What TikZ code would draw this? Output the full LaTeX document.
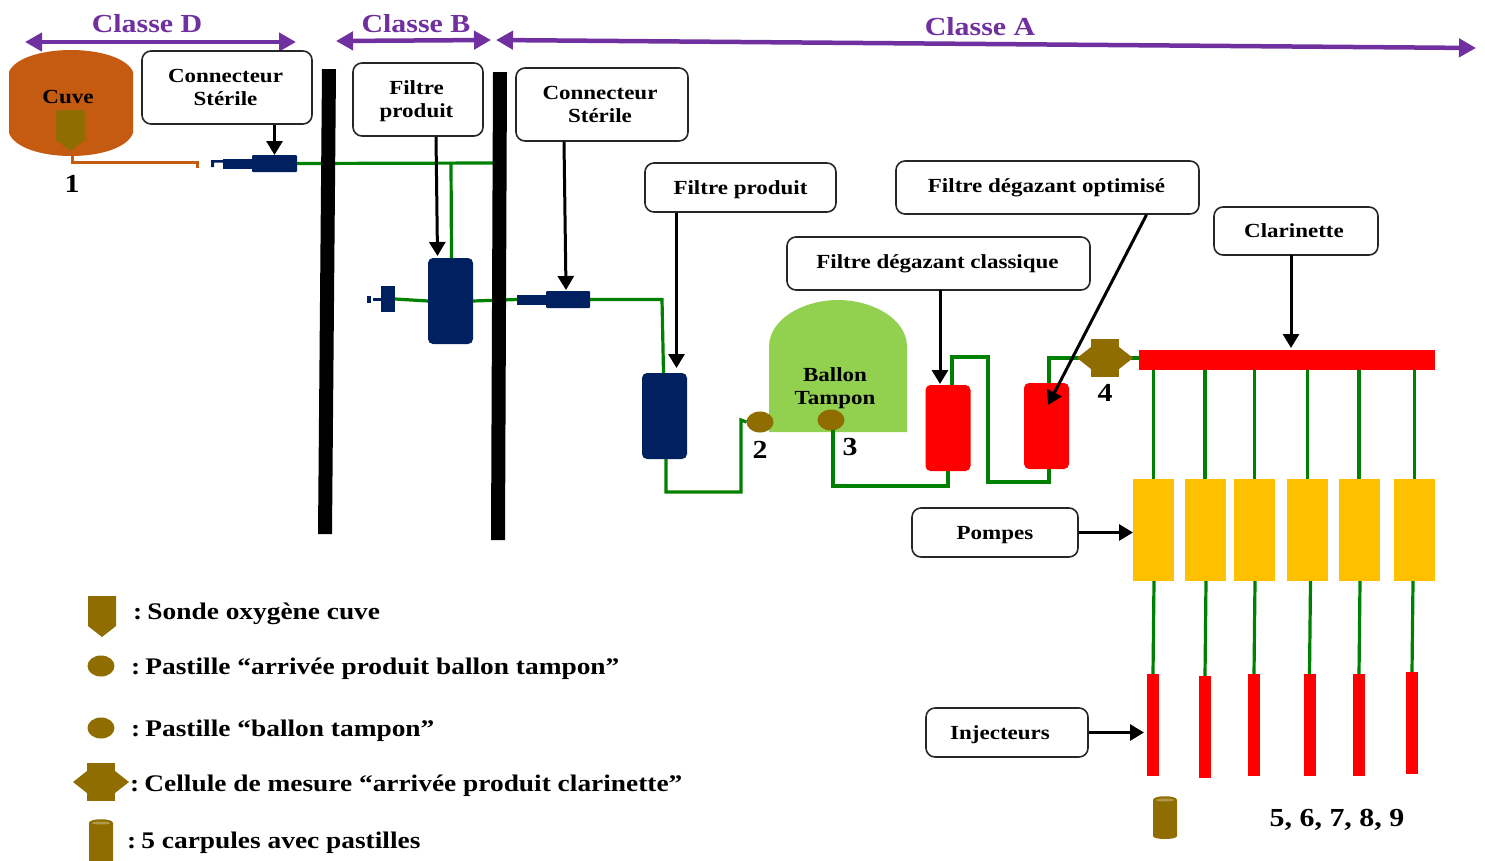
\documentclass[tikz,border=0pt]{standalone}
\usepackage{fontspec}
\setmainfont[FakeStretch=1.15]{Liberation Serif}
\usetikzlibrary{arrows.meta,calc,shapes.geometric}
\definecolor{cPurple}{HTML}{7030A0}
\definecolor{cGreen}{HTML}{008000}
\definecolor{cOrange}{HTML}{C55A11}
\definecolor{cNavy}{HTML}{002060}
\definecolor{cBrown}{HTML}{8F6D00}
\definecolor{cLeaf}{HTML}{92D050}
\definecolor{cAmber}{HTML}{FFC000}
\newcommand{\dn}[1]{\rule{0pt}{#1pt}}
\tikzset{
  x=1pt,y=-1pt,
  label box/.style={draw=black!85,line width=1.6pt,rounded corners=9pt,fill=white,align=center,inner sep=0pt,font=\bfseries\fontsize{20}{23}\selectfont},
  solid part/.style={inner sep=0pt,outer sep=0pt,draw=none},
  navy filter/.style={solid part,fill=cNavy,rounded corners=5pt,minimum width=45pt,minimum height=86pt},
  red filter/.style={solid part,fill=red,rounded corners=5pt,minimum width=45pt,minimum height=86pt},
  navy part/.style={solid part,fill=cNavy},
  pump/.style={solid part,fill=cAmber,minimum width=41pt,minimum height=102pt},
  injector/.style={solid part,fill=red,minimum width=12pt,minimum height=102pt},
  pastille/.style={solid part,fill=cBrown,ellipse,minimum width=27pt,minimum height=21pt},
  pipe/.style={draw=cGreen,line width=3.2pt,line join=miter},
  callout/.style={draw=black,line width=3pt,-{Triangle[length=14pt,width=16pt]}},
  classe/.style={draw=cPurple,line width=4.5pt,{Triangle[length=17pt,width=18pt]}-{Triangle[length=17pt,width=18pt]}},
  classe text/.style={text=cPurple,inner sep=0pt,font=\bfseries\fontsize{26}{28}\selectfont},
  num/.style={inner sep=0pt,font=\bfseries\fontsize{26}{28}\selectfont},
  inner text/.style={inner sep=0pt,align=center,font=\bfseries\fontsize{20}{23}\selectfont},
  legend text/.style={inner sep=0pt,anchor=west,font=\bfseries\fontsize{23.8}{26}\selectfont},
}
\newcommand{\probeshape}[3]{%
  \fill[cBrown] (#1,#2) -- ++(#3,0) -- ++(0,30) -- ++({-#3/2},11) -- ++({-#3/2},-11) -- cycle;}
\newcommand{\cellshape}[2]{%
  \fill[cBrown] (#1-14,#2-19) rectangle (#1+14,#2+19);
  \fill[cBrown] (#1-28,#2) -- (#1-14,#2-11) -- (#1+14,#2-11) -- (#1+28,#2) -- (#1+14,#2+11) -- (#1-14,#2+11) -- cycle;}
\newcommand{\carpule}[4]{%
  \fill[cBrown] (#1,#2+4) .. controls (#1,#2-1) and (#3,#2-1) .. (#3,#2+4) -- (#3,#4-3) .. controls (#3,#4+1) and (#1,#4+1) .. (#1,#4-3) -- cycle;
  \fill[cBrown!70!white] (#1+3,#2+4) .. controls (#1+3,#2+2) and (#3-3,#2+2) .. (#3-3,#2+4) .. controls (#3-3,#2+6) and (#1+3,#2+6) .. (#1+3,#2+4) -- cycle;}
\begin{document}
\begin{tikzpicture}
\useasboundingbox (0,0) rectangle (1485,860);
\fill[white] (0,0) rectangle (1485,860);

% class arrows
\coordinate (dL) at (25,42); \coordinate (dR) at (296,42);
\coordinate (bL) at (336,41); \coordinate (bR) at (491,40);
\coordinate (aL) at (496,40); \coordinate (aR) at (1476,48);
\draw[classe] (dL) -- (dR);
\draw[classe] (bL) -- (bR);
\draw[classe] (aL) -- (aR);
\node[classe text] (classeD) at (147,24) {Classe D};
\node[classe text] (classeB) at (416,24) {Classe B};
\node[classe text] (classeA) at (980,27) {Classe A};

% solid parts
\node[navy part,minimum width=45pt,minimum height=17pt,rounded corners=1pt] (conn1) at (274.5,163.5) {};
\node[navy part,minimum width=30pt,minimum height=10pt] (conn1b) at (238,163.5) {};
\fill[cNavy] (211,167) -- (211,160) -- (223,160) -- (223,162.5) -- (214,162.5) -- (214,167) -- cycle;
\node[navy filter] (f1) at (450.5,301) {};
\node[navy part,minimum width=14pt,minimum height=26pt] (cap) at (388,299) {};
\node[navy part,minimum width=8pt,minimum height=3pt] (capb) at (377,299) {};
\node[navy part,minimum width=4pt,minimum height=7pt] (capc) at (369,299) {};
\node[navy part,minimum width=44pt,minimum height=17pt,rounded corners=1pt] (conn2) at (568,299.5) {};
\node[navy part,minimum width=30pt,minimum height=10pt] (conn2b) at (532,299.5) {};
\node[navy filter] (f2) at (664.5,416) {};
\node[red filter] (r1) at (948,428) {};
\node[red filter] (r2) at (1046.5,426) {};
\node[solid part,fill=red,minimum width=296pt,minimum height=20pt] (clar) at (1287,360) {};

% ballon
\fill[cLeaf] (769,432) -- (769,347) .. controls (769,318) and (805,300) .. (838,300) .. controls (871,300) and (907,318) .. (907,347) -- (907,432) -- cycle;
\node[inner text] (ballonT) at (835,388) {Ballon\\Tampon};

% cuve
\fill[cOrange] (9,72) .. controls (14,59) and (40,50) .. (71,50) .. controls (102,50) and (128,59) .. (133,72) -- (133,133) .. controls (128,147) and (102,156) .. (71,156) .. controls (40,156) and (14,147) .. (9,133) -- cycle;
\node[inner text] (cuve) at (68,97) {Cuve};
\probeshape{56}{110}{29}
\coordinate (cuveOut) at (72,155);
\coordinate (tubeEnd) at (197,168);

\node[pastille] (p2) at (760,422) {};
\node[pastille] (p3) at (831,420) {};

% pipes
\draw[cOrange,line width=3pt] (cuveOut) |- (197,162) -- (tubeEnd);
\draw[pipe] (conn1.east) -- (493,163);
\coordinate (tee) at (451,163);
\draw[pipe] (tee) -- ([xshift=1pt]f1.north);
\draw[pipe] (cap.east) -- (f1.west);
\draw[pipe] (f1.east) -- (conn2b.west);
\draw[pipe] (conn2.east) -- (662,299.5) -- ([xshift=-1pt]f2.north);
\draw[pipe] (666,459) -- (666,492) -- (741,492) -- (741,420) -- (p2.west);
\draw[pipe] (833,430) -- (833,486) -- (948,486) -- (r1.south);
\draw[pipe] (952,385) -- (952,357) -- (988,357) -- (988,482) -- (1049,482) -- (1049,469);
\draw[pipe] (1049,383) -- (1049,358) -- (1140,358);

% walls over the pipes
\fill[black] (493,72) -- (507,72) -- (505,540) -- (491,540) -- cycle;
\fill[black] (322,69) -- (336,69) -- (332,534) -- (318,534) -- cycle;

% cell 4
\cellshape{1105}{358}
\node[num] (n4) at (1105,393) {4};

% pumps and injectors
\foreach \n/\cx/\ix/\iy in {1/1153.5/1153/725,2/1205/1205/727,3/1254.5/1254/725,4/1307.5/1309.5/725,5/1359/1359/725,6/1414.5/1412/723}{
  \node[pump] (pump\n) at (\cx,530) {};
  \node[injector] (inj\n) at (\ix,\iy) {};
  \draw[pipe] (pump\n.north |- clar.south) -- (pump\n.north);
  \draw[pipe] ([xshift=1pt]inj\n.north |- pump\n.south) -- (inj\n.north);
}

% labels
\node[label box,minimum width=170pt,minimum height=73pt] (bcs1) at (227,87.5) {\hspace*{-3pt}Connecteur\\\hspace*{-3pt}Stérile};
\node[label box,minimum width=130pt,minimum height=73pt] (bfp1) at (418,99.5) {\hspace*{-3pt}\dn{18}Filtre\\\hspace*{-3pt}produit};
\node[label box,minimum width=172pt,minimum height=73pt] (bcs2) at (602,104.5) {\hspace*{-4pt}Connecteur\\\hspace*{-4pt}Stérile};
\node[label box,minimum width=191pt,minimum height=49pt] (bfp2) at (740.5,187.5) {\dn{18}Filtre produit};
\node[label box,minimum width=303pt,minimum height=53pt] (bfdo) at (1047.5,187.5) {\hspace*{-2pt}Filtre dégazant optimisé};
\node[label box,minimum width=303pt,minimum height=53pt] (bfdc) at (938.5,263.5) {\hspace*{-2pt}Filtre dégazant classique};
\node[label box,minimum width=164pt,minimum height=48pt] (bclar) at (1296,231) {\hspace*{-4pt}Clarinette};
\node[label box,minimum width=166pt,minimum height=49pt] (bpomp) at (995,532.5) {\dn{18.5}Pompes};
\node[label box,minimum width=162pt,minimum height=49pt] (binj) at (1007,732.5) {\hspace*{-14pt}\dn{18}Injecteurs};

% callouts
\draw[callout] (conn1.north |- bcs1.south) -- (conn1.north);
\draw[callout] ([xshift=18pt]bfp1.south) -- ([xshift=-13pt,yshift=2pt]f1.north);
\draw[callout] ([xshift=-38pt]bcs2.south) -- ([xshift=-2pt,yshift=1pt]conn2.north);
\draw[callout] ([xshift=-64pt]bfp2.south) -- ([xshift=12pt,yshift=5pt]f2.north);
\draw[callout] (940,290) -- ([xshift=-8pt,yshift=1pt]r1.north);
\draw[callout] ([xshift=99pt]bfdo.south) -- (1048,405);
\draw[callout] (1291,255) -- (1291,348);
\draw[callout] (bpomp.east) -- (pump1.west |- bpomp.east);
\draw[callout] (binj.east) -- ([xshift=-3pt]inj1.west |- binj.east);

% numbers
\node[num] (n1) at (72,184) {1};
\node[num] (n2) at (760,450) {2};
\node[num] (n3) at (850,447.5) {3};
\carpule{1153}{796}{1177}{839}
\node[num] (n59) at (1337,820) {5, 6, 7, 8, 9};

% legend
\probeshape{88}{596}{28}
\node[pastille] (lp1) at (101,666) {};
\node[pastille] (lp2) at (101,728) {};
\cellshape{101}{782}
\carpule{89}{819}{113}{866}
\node[legend text] (l1) at (133,614) {:\hspace{-4pt} Sonde oxygène cuve};
\node[legend text] (l2) at (131,669) {:\hspace{-4pt} Pastille “arrivée produit ballon tampon”};
\node[legend text] (l3) at (131,731) {:\hspace{-4pt} Pastille “ballon tampon”};
\node[legend text] (l4) at (130,786) {:\hspace{-4pt} Cellule de mesure “arrivée produit clarinette”};
\node[legend text] (l5) at (127,843) {:\hspace{-4pt} 5 carpules avec pastilles};
\end{tikzpicture}
\end{document}
